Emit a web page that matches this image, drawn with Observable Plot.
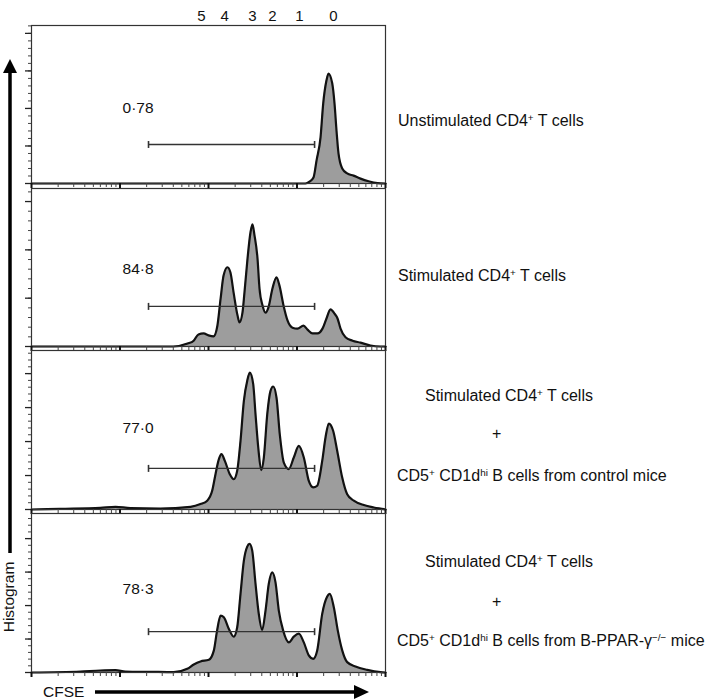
<!DOCTYPE html>
<html><head><meta charset="utf-8">
<script src="https://cdn.jsdelivr.net/npm/d3@7"></script>
<script src="https://cdn.jsdelivr.net/npm/@observablehq/plot@0.6"></script>
<style>
body{margin:0;background:#fff;font-family:"Liberation Sans",Arial,sans-serif;}
#fig{position:relative;width:709px;height:700px;overflow:hidden;background:#fff;}
.panel{position:absolute;left:0;}
.panel svg{overflow:visible;}
.lab{position:absolute;white-space:nowrap;font-size:16px;color:#111;transform:translateY(-50%);line-height:18px;}
.lab sup{font-size:0.62em;vertical-align:0.55em;line-height:0;}
#deco{position:absolute;left:0;top:0;}
</style></head><body><div id="fig"></div>
<script>
// ---- data ----
const divisionLabels = ["5","4","3","2","1","0"];
const divisionPeaks = [83, 152, 314, 528, 1067, 2584];      // CFSE of each division peak
const gateRange = [21, 1580];                               // CFSE marker gate
const gatePercent = ["0·78", "84·8", "77·0", "78·3"];
const gateLevel = [1.04, 0.83, 1.21, 1.22];                 // marker height (count units)
const labelLevel = [2.0, 1.61, 2.41, 2.48];
const yMax = [4.21, 3.27, 4.68, 4.75];
const yTickStep = 1;

const cfse1 = [1, 1247, 1384, 1536, 1662, 1845, 1977, 2154, 2270, 2500, 2655, 2795, 2944, 3243, 3690, 4350, 5220, 6430, 8120, 10000];
const count1 = [0, 0, 0.05, 0.16, 0.61, 1.23, 2.13, 2.75, 2.93, 2.67, 2.13, 1.41, 0.80, 0.40, 0.27, 0.21, 0.13, 0.06, 0.01, 0];

const cfse2 = [1, 40, 58, 68, 77, 88, 100, 114, 126, 137, 148, 164, 177, 192, 213, 224, 242, 255, 276, 298, 314, 331, 358, 377, 408, 441, 476, 528, 587, 634, 704, 781, 889, 1014, 1184, 1314, 1496, 1706, 1941, 2154, 2392, 2655, 2871, 3105, 3535, 4238, 5220, 6770, 8780, 10000];
const count2 = [0, 0, 0.06, 0.12, 0.25, 0.27, 0.23, 0.21, 0.43, 0.99, 1.47, 1.64, 1.53, 1.12, 0.64, 0.50, 0.70, 1.12, 1.82, 2.36, 2.53, 2.30, 1.82, 1.20, 0.85, 0.70, 0.81, 1.20, 1.43, 1.26, 0.85, 0.54, 0.39, 0.37, 0.43, 0.35, 0.27, 0.27, 0.37, 0.58, 0.77, 0.68, 0.58, 0.37, 0.19, 0.12, 0.08, 0.02, 0, 0];

const cfse3 = [1, 2.1, 6.0, 8.9, 13.1, 28.7, 62.6, 81.2, 96.7, 110, 120, 131, 140, 153, 174, 193, 211, 230, 251, 274, 293, 320, 340, 365, 394, 422, 461, 502, 538, 587, 639, 710, 808, 920, 1048, 1194, 1360, 1524, 1692, 1927, 2100, 2287, 2565, 2845, 3243, 3690, 4385, 5690, 7380, 9570, 10000];
const count3 = [0, 0.02, 0.05, 0.08, 0.04, 0.03, 0.08, 0.16, 0.26, 0.55, 1.04, 1.48, 1.63, 1.43, 1.04, 0.89, 1.14, 2.02, 3.20, 3.79, 4.03, 3.69, 2.80, 1.82, 1.16, 1.53, 2.80, 3.49, 3.62, 3.29, 2.21, 1.38, 1.19, 1.53, 1.87, 1.53, 0.84, 0.65, 0.70, 1.43, 2.12, 2.53, 2.31, 1.73, 0.94, 0.45, 0.26, 0.13, 0.06, 0.01, 0];

const cfse4 = [1, 3.6, 6.0, 8.9, 11.5, 22, 40.5, 57.5, 68.2, 81.2, 101, 115, 125, 137, 149, 170, 193, 211, 230, 251, 274, 291, 312, 340, 370, 404, 441, 480, 525, 571, 623, 698, 808, 920, 1048, 1194, 1360, 1524, 1692, 1927, 2195, 2349, 2606, 2891, 3243, 3690, 4582, 6210, 8780, 10000];
const count4 = [0, 0.03, 0.06, 0.07, 0.03, 0.02, 0.01, 0.11, 0.24, 0.33, 0.38, 0.66, 1.25, 1.70, 1.65, 1.30, 1.07, 1.35, 2.35, 3.34, 3.76, 3.84, 3.64, 2.65, 1.75, 1.27, 1.85, 2.65, 2.99, 2.70, 1.85, 1.25, 0.90, 1.07, 1.16, 0.90, 0.51, 0.41, 0.66, 1.75, 2.27, 2.35, 1.95, 1.25, 0.66, 0.31, 0.18, 0.08, 0.01, 0];

const conditionLabels = [
  ["Unstimulated CD4<sup>+</sup> T cells"],
  ["Stimulated CD4<sup>+</sup> T cells"],
  ["Stimulated CD4<sup>+</sup> T cells", "+", "CD5<sup>+</sup> CD1d<sup>hi</sup> B cells from control mice"],
  ["Stimulated CD4<sup>+</sup> T cells", "+", "CD5<sup>+</sup> CD1d<sup>hi</sup> B cells from B-PPAR-γ<sup>−/−</sup> mice"]
];
const xLabel = "CFSE";
const yLabel = "Histogram";

// ---- layout ----
const cfseAll = [cfse1, cfse2, cfse3, cfse4];
const countAll = [count1, count2, count3, count4];
const frameTops = [25, 188, 350, 513];
const innerH = [158, 158, 159, 159];
const labelPos = [
  [[398, 121]],
  [[398, 276]],
  [[425, 396], [492, 434], [397, 476]],
  [[425, 562], [492, 602], [397, 641]]
];

const fig = document.getElementById("fig");
const xTicksAll = d3.scaleLog().domain([1, 10000]).ticks();
const xMajor = [1, 10, 100, 1000, 10000];
const vbar = {draw(ctx, size) { const h = Math.sqrt(size / Math.PI); ctx.moveTo(0, -h); ctx.lineTo(0, h); }};

for (let i = 0; i < 4; i++) {
  const data = cfseAll[i].map((x, j) => ({cfse: x, count: countAll[i][j]}));
  const mt = i === 0 ? 25 : 4;
  const mb = 6;
  const majors = d3.range(0, yMax[i] + 1e-9, yTickStep);
  const minors = d3.range(0, yMax[i] + 1e-9, yTickStep / 5);
  const marks = [
    Plot.areaY(data, {x: "cfse", y: "count", fill: "#9d9d9d", curve: "monotone-x"}),
    Plot.lineY(data, {x: "cfse", y: "count", stroke: "#111", strokeWidth: 2.2, curve: "monotone-x"}),
    Plot.frame({stroke: "#333", strokeWidth: 1.2}),
    Plot.axisY({ticks: minors, tickSize: 3, tickFormat: () => "", label: null, stroke: "#444"}),
    Plot.axisY({ticks: majors, tickSize: 6, tickFormat: () => "", label: null, stroke: "#222", strokeWidth: 1.3}),
    Plot.axisX({ticks: xTicksAll, tickSize: 4, tickFormat: () => "", label: null, stroke: "#444"}),
    Plot.axisX({ticks: xMajor, tickSize: 5, tickFormat: () => "", label: null, stroke: "#111", strokeWidth: 2}),
    Plot.link([0], {x1: () => gateRange[0], x2: () => gateRange[1], y1: () => gateLevel[i], y2: () => gateLevel[i], stroke: "#333", strokeWidth: 1.4}),
    Plot.dot(gateRange, {x: d => d, y: () => gateLevel[i], symbol: vbar, r: 3.5, stroke: "#333", strokeWidth: 1.6, fill: "none"}),
    Plot.text([gatePercent[i]], {x: () => gateRange[0], y: () => labelLevel[i], text: d => d, dx: -26, textAnchor: "start", fontSize: 15.5, fill: "#111"})
  ];
  if (i === 0) {
    marks.push(Plot.text(divisionLabels, {x: (d, k) => divisionPeaks[k], text: d => d, frameAnchor: "top", dy: -15, fontSize: 15, fill: "#111"}));
  }
  const plot = Plot.plot({
    width: 709, height: innerH[i] + mt + mb,
    marginTop: mt, marginBottom: mb, marginLeft: 31, marginRight: 324,
    x: {type: "log", domain: [1, 10000], axis: null, label: null},
    y: {domain: [0, yMax[i]], axis: null, label: null},
    style: {fontFamily: "'Liberation Sans', Arial, sans-serif", fontSize: "15px", color: "#111", background: "transparent", overflow: "visible"},
    marks
  });
  const wrap = document.createElement("div");
  wrap.className = "panel";
  wrap.style.top = (frameTops[i] - mt) + "px";
  wrap.appendChild(plot);
  fig.appendChild(wrap);

  conditionLabels[i].forEach((t, k) => {
    const d = document.createElement("div");
    d.className = "lab";
    d.style.left = labelPos[i][k][0] + "px";
    d.style.top = labelPos[i][k][1] + "px";
    d.innerHTML = t;
    fig.appendChild(d);
  });
}

// decorative axis arrows
const svg = d3.select(fig).append("svg").attr("id", "deco").attr("width", 709).attr("height", 700)
  .style("font-family", "'Liberation Sans', Arial, sans-serif");
svg.append("line").attr("x1", 10).attr("x2", 10).attr("y1", 70).attr("y2", 553).attr("stroke", "#000").attr("stroke-width", 3.5);
svg.append("path").attr("d", "M3,73 L10,59 L17,73 Z").attr("fill", "#000");
svg.append("text").attr("transform", "translate(14,597) rotate(-90)").attr("text-anchor", "middle")
  .attr("font-size", 15.5).attr("fill", "#111").text(yLabel);
svg.append("text").attr("x", 43).attr("y", 697).attr("font-size", 15.5).attr("fill", "#111").text(xLabel);
svg.append("line").attr("x1", 95).attr("x2", 356).attr("y1", 692).attr("y2", 692).attr("stroke", "#000").attr("stroke-width", 3.5);
svg.append("path").attr("d", "M354,685 L369,692 L354,699 Z").attr("fill", "#000");
</script></body></html>
